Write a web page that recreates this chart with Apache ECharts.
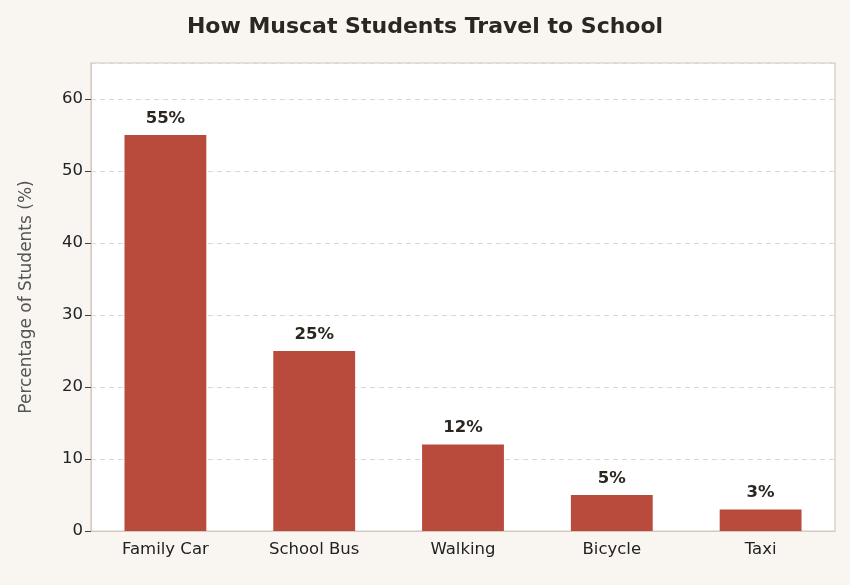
<!DOCTYPE html>
<html><head><meta charset="utf-8">
<script src="https://cdn.jsdelivr.net/npm/echarts@6/dist/echarts.min.js"></script>
<style>html,body{margin:0;padding:0;background:#f9f5f0;}#c{width:850px;height:585px;}</style>
</head><body><div id="c"></div>
<script>
const categories = ["Family Car","School Bus","Walking","Bicycle","Taxi"];
const values = [55,25,12,5,3];
const chart = echarts.init(document.getElementById('c'));
chart.setOption({
  backgroundColor:'#f9f5f0',
  animation:false,
  title:{text:'How Muscat Students Travel to School',left:'center',top:11,
    textStyle:{fontFamily:'DejaVu Sans',fontSize:22,fontWeight:'bold',color:'#2b2620'}},
  grid:{left:91,right:15,top:63,bottom:54,show:true,backgroundColor:'#ffffff',borderColor:'#d4c9bc',borderWidth:1.2},
  xAxis:{type:'category',data:categories,
    axisLine:{lineStyle:{color:'#d4c9bc'}},
    axisTick:{alignWithLabel:true,length:6,lineStyle:{color:'#444'}},
    axisLabel:{fontFamily:'DejaVu Sans',fontSize:16.5,color:'#222',margin:10}},
  yAxis:{type:'value',min:0,max:65,interval:10,
    name:'Percentage of Students (%)',nameLocation:'middle',nameGap:56,
    nameTextStyle:{fontFamily:'DejaVu Sans',fontSize:17,color:'#555'},
    axisLine:{show:true,lineStyle:{color:'#d4c9bc'}},
    axisTick:{show:true,length:6,lineStyle:{color:'#444'}},
    axisLabel:{fontFamily:'DejaVu Sans',fontSize:16.5,color:'#222',showMaxLabel:false,
      formatter:v=>v%10===0?v:''},
    splitLine:{lineStyle:{color:'#d8d8d8',type:[5,4]}}},
  series:[{type:'bar',data:values,barWidth:'55%',
    itemStyle:{color:'#b84b3b'},
    label:{show:true,position:'top',distance:8,formatter:'{c}%',
      fontFamily:'DejaVu Sans',fontSize:16.5,fontWeight:'bold',color:'#2b2620'}}]
});
</script></body></html>
